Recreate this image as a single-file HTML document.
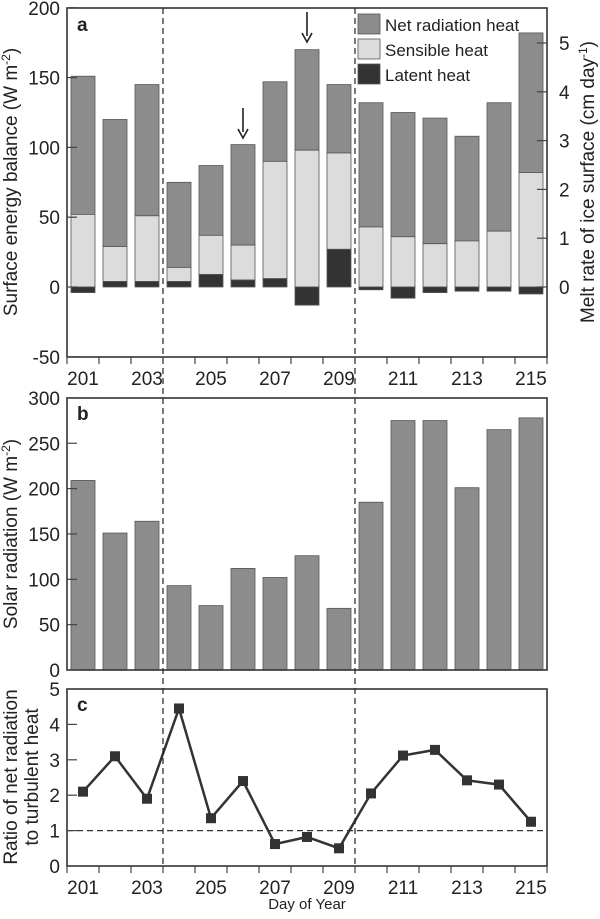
<!DOCTYPE html>
<html><head><meta charset="utf-8"><style>
body{margin:0;background:#fff;}
svg text{font-family:"Liberation Sans",sans-serif;fill:#222;}
</style></head><body>
<svg id="chart" width="600" height="914" viewBox="0 0 600 914"></svg>
<script>
const days=[201,202,203,204,205,206,207,208,209,210,211,212,213,214,215];
const totalHeat=[151,120,145,75,87,102,147,170,145,132,125,121,108,132,182];
const sensibleTop=[52,29,51,14,37,30,90,98,96,43,36,31,33,40,82];
const latentHeat=[-4,4,4,4,9,5,6,-13,27,-2,-8,-4,-3,-3,-5];
const solarRad=[209,151,164,93,71,112,102,126,68,185,275,275,201,265,278];
const ratio=[2.1,3.1,1.9,4.45,1.35,2.4,0.62,0.82,0.5,2.05,3.12,3.28,2.42,2.3,1.25];
const aTicks=[-50,0,50,100,150,200];
const meltTicks=[0,1,2,3,4,5];
const bTicks=[0,50,100,150,200,250,300];
const cTicks=[0,1,2,3,4,5];
const xLabels=[201,203,205,207,209,211,213,215];

const NS="http://www.w3.org/2000/svg";
const svg=document.getElementById('chart');
function mk(tag,attrs,parent){const e=document.createElementNS(NS,tag);for(const k in attrs)e.setAttribute(k,attrs[k]);(parent||svg).appendChild(e);return e;}
const L=67,R=547,step=32;
const xc=d=>L+16+(d-201)*step;
const yA=v=>287-v*1.396;
const yM=v=>287-v*48.8;
const yB=v=>670-v*0.907;
const yC=v=>866-v*35.4;
const BW=24;

function rect(x,y1,y2,fill,name){const r=mk('rect',{x:x-BW/2,y:Math.min(y1,y2),width:BW,height:Math.abs(y2-y1),fill:fill,stroke:'#555','stroke-width':0.8});

return r;}
function txt(x,y,s,opts){const t=mk('text',Object.assign({x:x,y:y,'font-size':19},opts||{}));t.textContent=s;return t;}

days.forEach((d,i)=>{
  const x=xc(d);
  const base=Math.max(latentHeat[i],0);
  rect(x,yA(sensibleTop[i]),yA(totalHeat[i]),'#8c8c8c','net-radiation-bar');
  rect(x,yA(base),yA(sensibleTop[i]),'#dcdcdc','sensible-heat-bar');
  rect(x,yA(0),yA(latentHeat[i]),'#333','latent-heat-bar');
});
days.forEach((d,i)=>{rect(xc(d),yB(0),yB(solarRad[i]),'#8c8c8c','solar-radiation-bar');});
let pts=days.map((d,i)=>xc(d)+','+yC(ratio[i])).join(' ');
const pl=mk('polyline',{points:pts,fill:'none',stroke:'#333','stroke-width':2.5});


days.forEach((d,i)=>{const m=mk('rect',{x:xc(d)-5,y:yC(ratio[i])-5,width:10,height:10,fill:'#333'});

});
mk('line',{x1:L,x2:R,y1:yC(1),y2:yC(1),stroke:'#333','stroke-dasharray':'6,4','stroke-width':1.2});

[[8,357],[398,670],[689,866]].forEach(([t,b],k)=>{
  const f=mk('rect',{x:L,y:t,width:R-L,height:b-t,fill:'none',stroke:'#333','stroke-width':1.6});
  
  
});
[L+3*step,L+9*step].forEach(x=>mk('line',{x1:x,x2:x,y1:8,y2:866,stroke:'#222','stroke-dasharray':'6,4','stroke-width':1.2}));

aTicks.forEach(v=>{mk('line',{x1:L,x2:L+10,y1:yA(v),y2:yA(v),stroke:'#444','stroke-width':1.2});txt(L-7,yA(v)+7,v,{'text-anchor':'end'});});
meltTicks.forEach(v=>{mk('line',{x1:R,x2:R-10,y1:yM(v),y2:yM(v),stroke:'#444','stroke-width':1.2});txt(R+12,yM(v)+7,v);});
bTicks.forEach(v=>{mk('line',{x1:L,x2:L+10,y1:yB(v),y2:yB(v),stroke:'#444','stroke-width':1.2});txt(L-7,yB(v)+7,v,{'text-anchor':'end'});});
cTicks.forEach(v=>{mk('line',{x1:L,x2:L+10,y1:yC(v),y2:yC(v),stroke:'#444','stroke-width':1.2});txt(L-7,yC(v)+7,v,{'text-anchor':'end'});});
[357,866].forEach(yb=>{
  for(let k=0;k<=15;k++)mk('line',{x1:L+k*step,x2:L+k*step,y1:yb,y2:yb+7,stroke:'#444','stroke-width':1.2});
  xLabels.forEach(d=>txt(xc(d),yb+28,d,{'text-anchor':'middle'}));
});
txt(77,31,'a',{'font-weight':'bold','font-size':19});
txt(77,420,'b',{'font-weight':'bold','font-size':19});
txt(77,711,'c',{'font-weight':'bold','font-size':19});
[[206,108,138],[208,12,42]].forEach(([d,y1,y2])=>{const x=xc(d);
 mk('line',{x1:x,x2:x,y1:y1,y2:y2-6,stroke:'#222','stroke-width':1.6});
 mk('path',{d:`M${x-5},${y2-9} L${x},${y2} L${x+5},${y2-9}`,fill:'none',stroke:'#222','stroke-width':1.6});});
const lg=[['Net radiation heat','#8c8c8c'],['Sensible heat','#dcdcdc'],['Latent heat','#333']];
lg.forEach(([n,c],i)=>{const y=14+i*25;
 const r=mk('rect',{x:358,y:y,width:22,height:20,fill:c,stroke:'#555','stroke-width':0.8});
 
 
 txt(385,y+17,n,{'font-size':17});});
const t1=txt(0,0,'',{'text-anchor':'middle',transform:'translate(17,182) rotate(-90)'});
t1.innerHTML='Surface energy balance (W m<tspan dy="-7" font-size="12">-2</tspan><tspan dy="7">)</tspan>';
const t2=txt(0,0,'',{'text-anchor':'middle',transform:'translate(594,182) rotate(-90)'});
t2.innerHTML='Melt rate of ice surface (cm day<tspan dy="-7" font-size="12">-1</tspan><tspan dy="7">)</tspan>';
const t3=txt(0,0,'',{'text-anchor':'middle',transform:'translate(17,534) rotate(-90)'});
t3.innerHTML='Solar radiation (W m<tspan dy="-7" font-size="12">-2</tspan><tspan dy="7">)</tspan>';
txt(0,0,'Ratio of net radiation',{'text-anchor':'middle',transform:'translate(17,777) rotate(-90)'});
txt(0,0,'to turbulent heat',{'text-anchor':'middle',transform:'translate(38,777) rotate(-90)'});
txt(307,909,'Day of Year',{'text-anchor':'middle','font-size':15});
</script>
</body></html>
